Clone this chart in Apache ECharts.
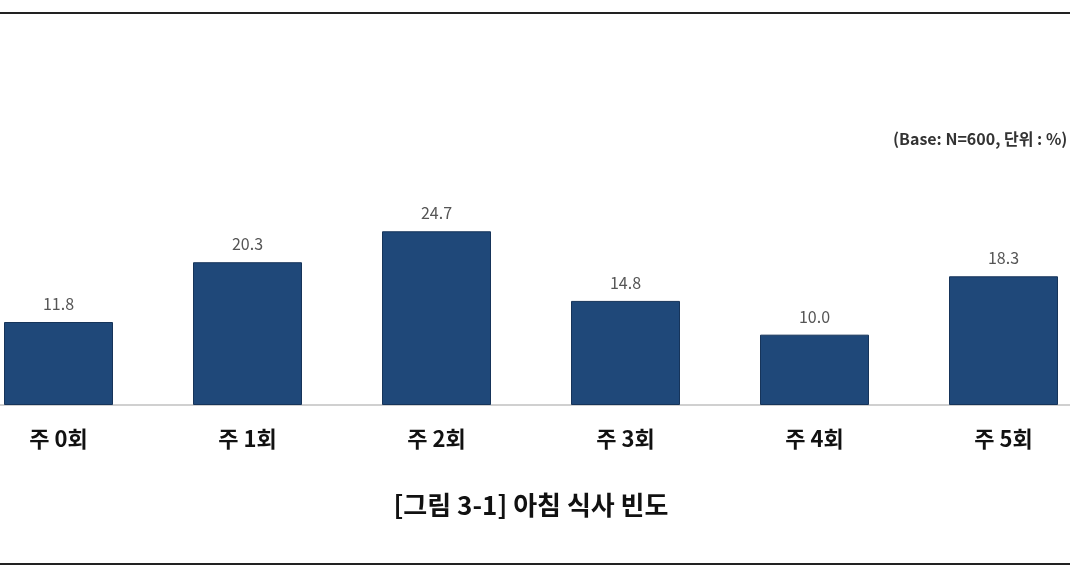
<!DOCTYPE html>
<html>
<head>
<meta charset="utf-8">
<script src="https://cdn.jsdelivr.net/npm/echarts@6/dist/echarts.min.js"></script>
<style>
  html, body { margin: 0; padding: 0; background: #fff; overflow: hidden; }
  body { width: 1070px; height: 582px; position: relative; }
  /* 차트를 좌우로 넓혀 양 끝 막대가 잘리도록 함 */
  #main { position: absolute; left: -36px; top: 0; width: 1134px; height: 582px; }
</style>
</head>
<body>
<div id="main"></div>
<script>
// 아침 식사 빈도 데이터
const categories = ['주 0회', '주 1회', '주 2회', '주 3회', '주 4회', '주 5회'];
const values = [11.8, 20.3, 24.7, 14.8, 10.0, 18.3];
const titleText = '[그림 3-1] 아침 식사 빈도';
const baseNote = '(Base: N=600, 단위 : %)';

const chart = echarts.init(document.getElementById('main'));
const font = '"Noto Sans CJK KR", "Noto Sans", sans-serif';
const off = 36; // div 오프셋

chart.setOption({
  animation: false,
  backgroundColor: '#fff',
  grid: {
    left: 0,
    right: 0,
    top: 194,
    bottom: 177
  },
  xAxis: {
    type: 'category',
    data: categories,
    axisTick: { show: false },
    axisLine: { lineStyle: { color: '#d0d0d0', width: 2 } },
    axisLabel: {
      margin: 23,
      color: '#111',
      fontSize: 22,
      fontWeight: 'bold',
      fontFamily: font
    }
  },
  yAxis: {
    type: 'value',
    min: 0,
    max: 30,
    show: false,
    splitLine: { show: false }
  },
  series: [{
    type: 'bar',
    data: values,
    barWidth: 109,
    itemStyle: {
      color: '#1f4879',
      borderColor: '#16345a',
      borderWidth: 1
    },
    label: {
      show: true,
      position: 'top',
      distance: 10,
      color: '#555',
      fontSize: 16,
      fontFamily: font,
      formatter: p => p.value.toFixed(1)
    }
  }],
  graphic: [
    {
      type: 'line',
      shape: { x1: 0, y1: 13, x2: 1134, y2: 13 },
      style: { stroke: '#222', lineWidth: 2 }
    },
    {
      type: 'line',
      shape: { x1: 0, y1: 564, x2: 1134, y2: 564 },
      style: { stroke: '#222', lineWidth: 2 }
    },
    {
      type: 'text',
      x: 893 + off,
      y: 131,
      style: {
        text: baseNote,
        fill: '#333',
        fontSize: 16,
        fontWeight: 'bold',
        fontFamily: font
      }
    },
    {
      type: 'text',
      x: 531 + off,
      y: 505,
      style: {
        text: titleText,
        fill: '#111',
        fontSize: 26,
        fontWeight: 'bold',
        fontFamily: font,
        align: 'center',
        verticalAlign: 'middle'
      }
    }
  ]
});
</script>
</body>
</html>
